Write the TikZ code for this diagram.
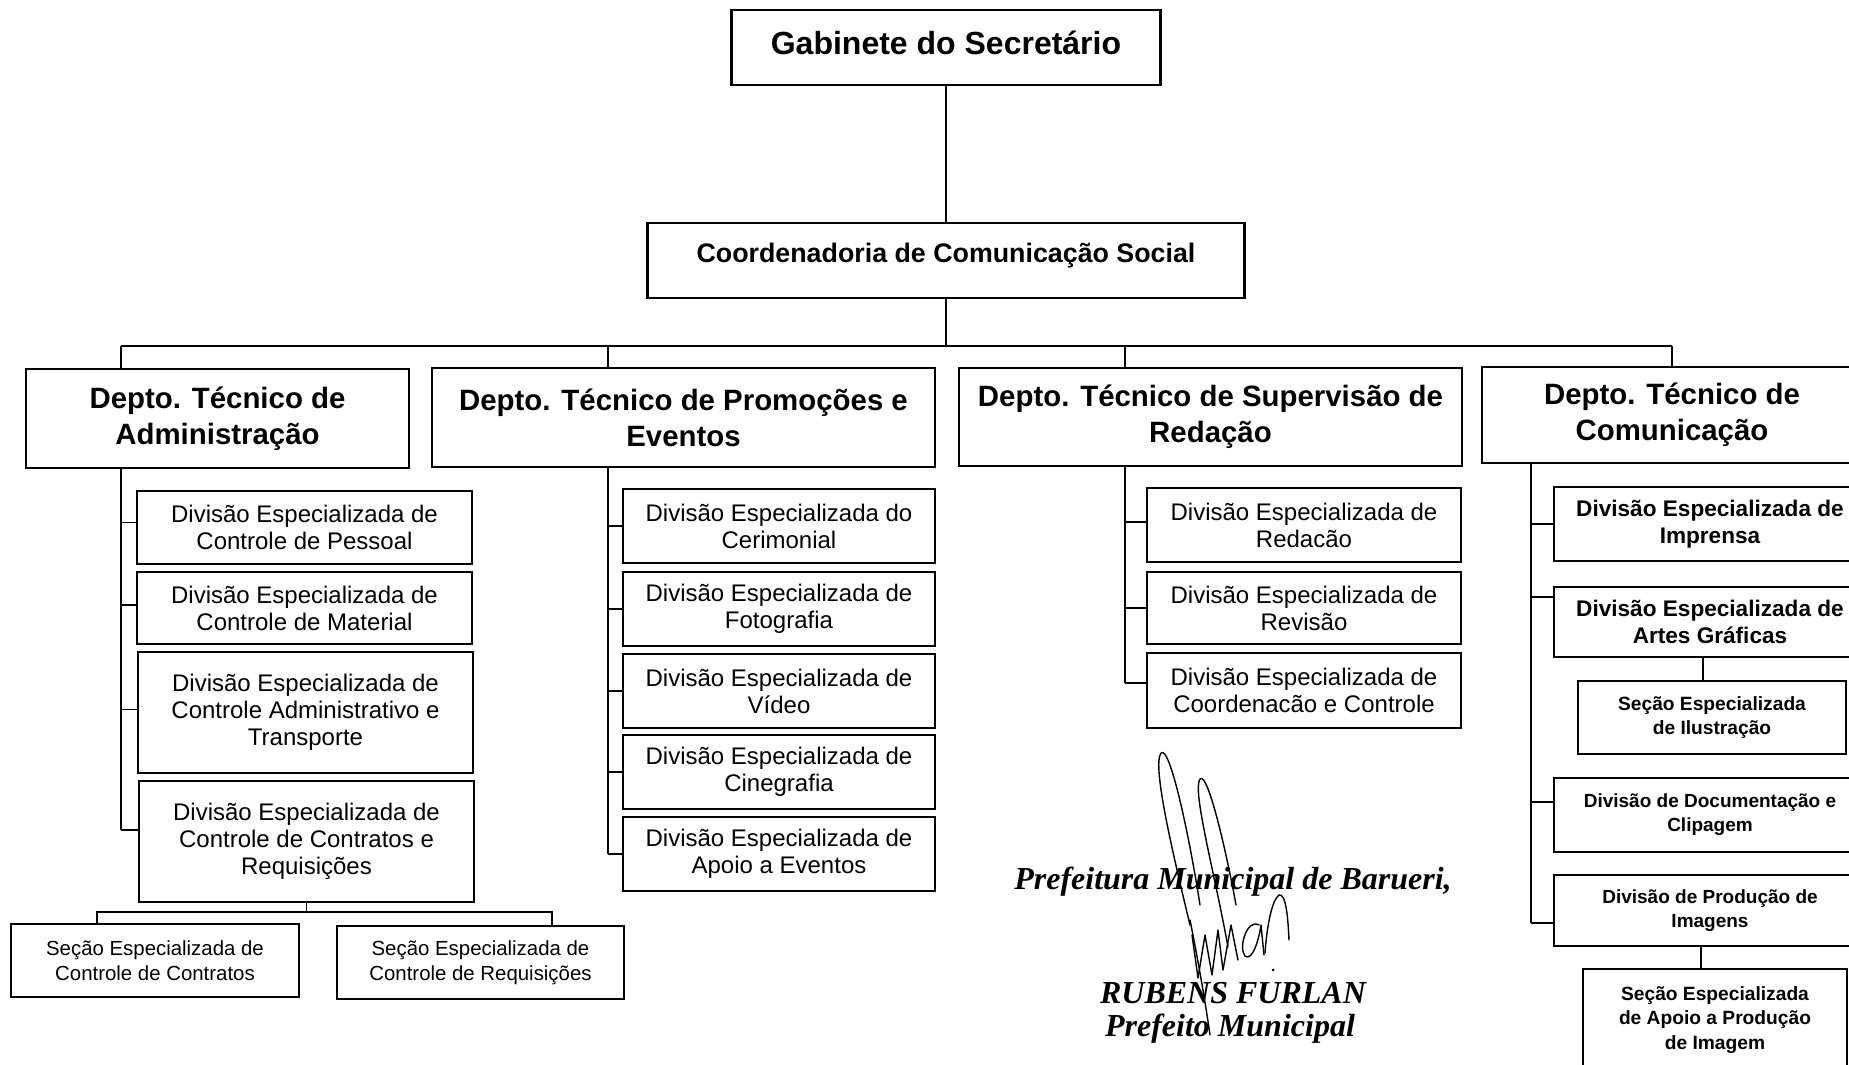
\documentclass[tikz,border=0pt]{standalone}
\usepackage{fontspec}
\setmainfont{Liberation Sans}
\newfontfamily\signfont{Liberation Serif}

\begin{document}
\begin{tikzpicture}[x=0.5pt,y=-0.5pt,
    orgbox/.style={draw, line width=1.2pt, align=center, inner sep=0pt},
    topbox/.style={orgbox, font=\bfseries\fontsize{16}{19}\selectfont},
    deptbox/.style={orgbox, font=\bfseries\fontsize{14.7}{18}\selectfont},
    divbox/.style={orgbox, line width=1pt, font=\fontsize{12}{13.5}\selectfont},
    secbox/.style={orgbox, line width=1pt, font=\fontsize{10.2}{12.3}\selectfont},
    comdiv/.style={orgbox, line width=1pt, font=\bfseries\fontsize{11.3}{13.5}\selectfont},
    comsec/.style={orgbox, line width=1pt, font=\bfseries\fontsize{9.6}{12.2}\selectfont},
    bw/.style={minimum width=#1*0.5pt},
    bh/.style={minimum height=#1*0.5pt},
    link/.style={line width=0.9pt},
    sign/.style={font=\signfont\bfseries\itshape\fontsize{16}{19}\selectfont},
    pen/.style={line width=0.7pt, line cap=round, line join=round}]

    \useasboundingbox (0,0) rectangle (1849,1065);

    % top of the chart
    \node[topbox, text depth=5pt, bw=429, bh=75] (gab) at (946,47.5) {Gabinete do Secretário};
    \node[topbox, font=\bfseries\fontsize{13.4}{16}\selectfont, text depth=8pt, bw=597, bh=75] (coord) at (946,260.5) {Coordenadoria de Comunicação Social};

    % departments
    \node[deptbox, bw=383, bh=99] (adm) at (217.5,418.5) {Depto. Técnico de\\Administração};
    \node[deptbox, bw=503, bh=99] (pro) at (683.5,417.5) {Depto. Técnico de Promoções e\\Eventos};
    \node[deptbox, bw=503, bh=98] (red) at (1210.5,417) {Depto. Técnico de Supervisão de\\Redação};
    \node[deptbox, bw=380, bh=96] (com) at (1672,415) {Depto. Técnico de\\Comunicação};

    % trunks under the departments
    \coordinate (tadm) at (121,0);
    \coordinate (tpro) at (608,0);
    \coordinate (tred) at (1125,0);
    \coordinate (tcom) at (1531,0);

    % administration
    \node[divbox, bw=335, bh=73] (dpes) at (304.5,527.5) {Divisão Especializada de\\Controle de Pessoal};
    \node[divbox, bw=335, bh=72] (dmat) at (304.5,608) {Divisão Especializada de\\Controle de Material};
    \node[divbox, bw=335, bh=121] (dadm) at (305.5,712.5) {Divisão Especializada de\\Controle Administrativo e\\Transporte};
    \node[divbox, bw=335, bh=121] (dcon) at (306.5,841.5) {Divisão Especializada de\\Controle de Contratos e\\Requisições};
    \node[secbox, bw=288, bh=73] (scon) at (155,960.5) {Seção Especializada de\\Controle de Contratos};
    \node[secbox, bw=287, bh=73] (sreq) at (480.5,962.5) {Seção Especializada de\\Controle de Requisições};

    % promotions and events
    \node[divbox, bw=312, bh=74] (dcer) at (779,526) {Divisão Especializada do\\Cerimonial};
    \node[divbox, bw=312, bh=74] (dfot) at (779,609) {Divisão Especializada de\\Fotografia};
    \node[divbox, bw=312, bh=74] (dvid) at (779,691) {Divisão Especializada de\\Vídeo};
    \node[divbox, bw=312, bh=74] (dcin) at (779,772) {Divisão Especializada de\\Cinegrafia};
    \node[divbox, bw=312, bh=74] (dapo) at (779,854) {Divisão Especializada de\\Apoio a Eventos};

    % supervision of writing
    \node[divbox, bw=314, bh=74] (dred) at (1304,525) {Divisão Especializada de\\Redacão};
    \node[divbox, bw=314, bh=72] (drev) at (1304,608) {Divisão Especializada de\\Revisão};
    \node[divbox, bw=314, bh=75] (dcoo) at (1304,690.5) {Divisão Especializada de\\Coordenacão e Controle};

    % communication
    \node[comdiv, bw=312, bh=74] (dimp) at (1710,524) {Divisão Especializada de\\Imprensa};
    \node[comdiv, bw=312, bh=70] (dart) at (1710,622) {Divisão Especializada de\\Artes Gráficas};
    \node[comsec, bw=268, bh=73] (sil) at (1712,717.5) {Seção Especializada\\de Ilustração};
    \node[comdiv, font=\bfseries\fontsize{9.5}{12}\selectfont, bw=312, bh=74] (ddoc) at (1710,815) {Divisão de Documentação e\\Clipagem};
    \node[comdiv, font=\bfseries\fontsize{9.5}{12}\selectfont, bw=312, bh=71] (dprd) at (1710,910.5) {Divisão de Produção de\\Imagens};
    \node[comsec, bw=264, bh=102] (sapo) at (1715,1020) {Seção Especializada\\de Apoio a Produção\\de Imagem};

    % connectors at the top
    \draw[link] (gab.south) -- (gab.south |- coord.north);
    \draw[link] (coord.south) -- ++(0,47) coordinate (bus);
    \draw[link] (tadm |- bus) -- (bus -| com.north);
    \foreach \d/\t in {adm/tadm, pro/tpro, red/tred}
        \draw[link] (bus -| \t) -- (\d.north -| \t);
    \draw[link] (bus -| com.north) -- (com.north);

    % branches
    \foreach \d/\s in {dpes/2.5, dmat/1.5, dadm/1.5, dcon/5.75}
        \draw[link] ([yshift=\s pt]\d.west) coordinate (b\d) -- (b\d -| tadm);
    \draw[link] (adm.south -| tadm) -- (bdcon -| tadm);

    \foreach \d in {dcer, dfot, dvid, dcin, dapo}
        \draw[link] (\d.west) -- (\d.west -| tpro);
    \draw[link] (pro.south -| tpro) -- (dapo.west -| tpro);

    \foreach \d/\s in {dred/1.5, drev/0, dcoo/3.75}
        \draw[link] ([yshift=\s pt]\d.west) coordinate (b\d) -- (b\d -| tred);
    \draw[link] (red.south -| tred) -- (bdcoo -| tred);

    \foreach \d/\s in {dimp/0, dart/12.5, ddoc/6.5, dprd/-6.25}
        \draw[link] ([yshift=\s pt]\d.west) coordinate (b\d) -- (b\d -| tcom);
    \draw[link] (com.south -| tcom) -- (bdprd -| tcom);

    % sections
    \draw[link] (dcon.south) -- ++(0,9) coordinate (sbus);
    \draw[link] ([xshift=-29pt]scon.north) |- (sbus) -| ([xshift=35.75pt]sreq.north);
    \draw[link] ([xshift=-4.5pt]sil.north) coordinate (tsil) -- (tsil |- dart.south);
    \draw[link] ([xshift=-7pt]sapo.north) coordinate (tsap) -- (tsap |- dprd.south);

    % signature
    \node[sign] (pref) at (1233,882) {Prefeitura Municipal de Barueri,};
    \node[sign] (rub) at (1233,993) {RUBENS FURLAN};
    \node[sign] (pm) at (1230,1029) {Prefeito Municipal};

    \draw[pen] (1190,925) .. controls (1172,850) and (1152,765) .. (1161,753)
        .. controls (1170,744) and (1190,840) .. (1200,905);
    \draw[pen] (1190,920) .. controls (1198,960) and (1205,1000) .. (1210,1035);
    \draw[pen] (1228,947) .. controls (1214,870) and (1192,790) .. (1200,779)
        .. controls (1208,770) and (1228,860) .. (1236,905);
    \draw[pen] (1192,935) -- (1198,978) -- (1205,935) -- (1212,975) -- (1218,930)
        -- (1223,970) -- (1231,925) -- (1238,960);
    \draw[pen] (1259,925) .. controls (1247,918) and (1238,948) .. (1245,956)
        .. controls (1252,962) and (1259,940) .. (1261,925) -- (1264,955);
    \draw[pen] (1265,953) .. controls (1267,925) and (1272,900) .. (1279,895)
        .. controls (1286,893) and (1288,918) .. (1289,940);
    \fill (1273,970) circle (1.5);
\end{tikzpicture}
\end{document}
